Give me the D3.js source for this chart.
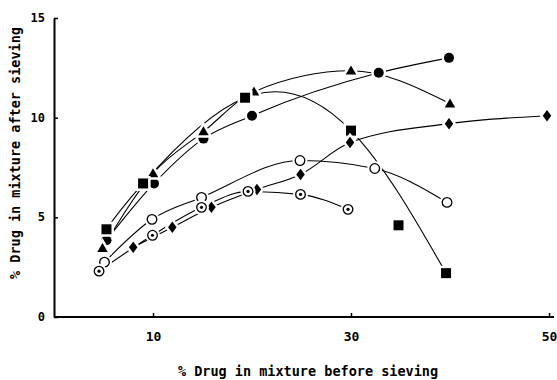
<!DOCTYPE html>
<html>
<head>
<meta charset="utf-8">
<script src="https://cdn.jsdelivr.net/npm/d3@7"></script>
<style>
  body { margin: 0; background: #fff; }
  text { font-family: "DejaVu Sans Mono", "Liberation Mono", monospace; font-weight: bold; fill: #000; }
</style>
</head>
<body>
<svg id="chart" width="557" height="380"></svg>
<script>
// Axis ticks
const xTicks = [10, 30, 50];
const yTicks = [0, 5, 10, 15];

// [% drug before sieving, % drug after sieving]
const filledCircle = [[5.3, 3.85], [10.1, 6.7], [15.1, 8.95], [20.0, 10.1], [32.8, 12.25], [39.9, 13.0]];
const filledTriangle = [[4.9, 3.45], [10.0, 7.2], [15.1, 9.3], [20.2, 11.3], [30.0, 12.35], [40.0, 10.7]];
const filledSquare = [[5.3, 4.4], [9.0, 6.7], [19.3, 11.0], [30.0, 9.35], [34.8, 4.6], [39.6, 2.2]];
const filledDiamond = [[8.0, 3.5], [11.95, 4.5], [15.9, 5.5], [20.5, 6.4], [24.9, 7.15], [29.9, 8.75], [39.9, 9.7], [49.8, 10.1]];
const openCircle = [[5.1, 2.75], [9.9, 4.9], [14.9, 6.0], [24.85, 7.85], [32.4, 7.45], [39.7, 5.75]];
const dotCircle = [[4.55, 2.3], [9.95, 4.1], [14.9, 5.5], [19.6, 6.3], [24.9, 6.15], [29.7, 5.4]];

// points left off the smooth fitted curve (index into the series)
const squareOffCurve = [4];

const series = [
  { pts: filledCircle, shape: "circle", curve: d3.curveMonotoneX },
  { pts: filledTriangle, shape: "triangle", curve: d3.curveMonotoneX },
  { pts: filledSquare, shape: "square", skip: squareOffCurve, curve: d3.curveNatural },
  { pts: filledDiamond, shape: "diamond", curve: d3.curveMonotoneX },
  { pts: openCircle, shape: "open", curve: d3.curveMonotoneX },
  { pts: dotCircle, shape: "dot", curve: d3.curveMonotoneX }
];

const svg = d3.select("#chart");
const x = d3.scaleLinear().domain([0, 50]).range([54, 549]);
const y = d3.scaleLinear().domain([0, 15]).range([317, 18]);

// Axes
const gx = svg.append("g").attr("transform", `translate(0,${y(0)})`)
  .call(d3.axisBottom(x).tickValues(xTicks).tickSizeInner(-4).tickSizeOuter(0).tickPadding(16));
gx.select(".domain").remove();
gx.append("line").attr("x1", x(0)).attr("x2", 554).attr("y1", 0).attr("y2", 0)
  .attr("stroke", "#000").attr("stroke-width", 2);
gx.selectAll(".tick line").attr("stroke-width", 1.5);
gx.selectAll(".tick text").attr("font-size", 13).attr("dy", "0.65em")
  .style("font-family", "'DejaVu Sans Mono', monospace").style("font-weight", "bold");

const gy = svg.append("g").attr("transform", `translate(${x(0)},0)`)
  .call(d3.axisLeft(y).tickValues(yTicks).tickSizeInner(-4).tickSizeOuter(0).tickPadding(9));
gy.select(".domain").attr("stroke-width", 2);
gy.selectAll(".tick line").attr("stroke-width", 1.5);
gy.selectAll(".tick text").attr("font-size", 12).attr("dy", "0.3em")
  .style("font-family", "'DejaVu Sans Mono', monospace").style("font-weight", "bold");

// Axis titles
svg.append("text").attr("x", 308).attr("y", 376).attr("text-anchor", "middle")
  .attr("font-size", 13.5).text("% Drug in mixture before sieving");
svg.append("text").attr("transform", "translate(20,153) rotate(-90)").attr("text-anchor", "middle")
  .attr("font-size", 13.5).text("% Drug in mixture after sieving");

// Smooth fitted curves
const curves = svg.append("g").attr("fill", "none").attr("stroke", "#000").attr("stroke-width", 1.1);
series.forEach(s => {
  const line = d3.line().x(d => x(d[0])).y(d => y(d[1])).curve(s.curve);
  const pts = s.pts.filter((d, i) => !(s.skip || []).includes(i));
  curves.append("path").attr("d", line(pts));
});

// Marker shapes
function shapePath(shape, r) {
  const p = d3.path();
  if (shape === "square") { p.rect(-r, -r, 2 * r, 2 * r); }
  else if (shape === "triangle") { p.moveTo(0, -r * 1.05); p.lineTo(r * 1.05, r * 0.75); p.lineTo(-r * 1.05, r * 0.75); p.closePath(); }
  else if (shape === "diamond") { p.moveTo(0, -r * 1.15); p.lineTo(r * 0.85, 0); p.lineTo(0, r * 1.15); p.lineTo(-r * 0.85, 0); p.closePath(); }
  else { p.arc(0, 0, r, 0, 2 * Math.PI); }
  return p.toString();
}

const marks = svg.append("g");
series.forEach(s => {
  const g = marks.selectAll(null).data(s.pts).enter().append("g")
    .attr("transform", d => `translate(${x(d[0])},${y(d[1])})`);
  // white halo separating markers from the curves
  g.append("path").attr("d", shapePath(s.shape, 5)).attr("fill", "#fff")
    .attr("stroke", "#fff").attr("stroke-width", 5);
  if (s.shape === "open" || s.shape === "dot") {
    g.append("path").attr("d", shapePath("circle", 4.8)).attr("fill", "#fff")
      .attr("stroke", "#000").attr("stroke-width", 1.3);
    if (s.shape === "dot") g.append("circle").attr("r", 1.6).attr("fill", "#000");
  } else {
    g.append("path").attr("d", shapePath(s.shape, 5)).attr("fill", "#000");
  }
});
</script>
</body>
</html>
